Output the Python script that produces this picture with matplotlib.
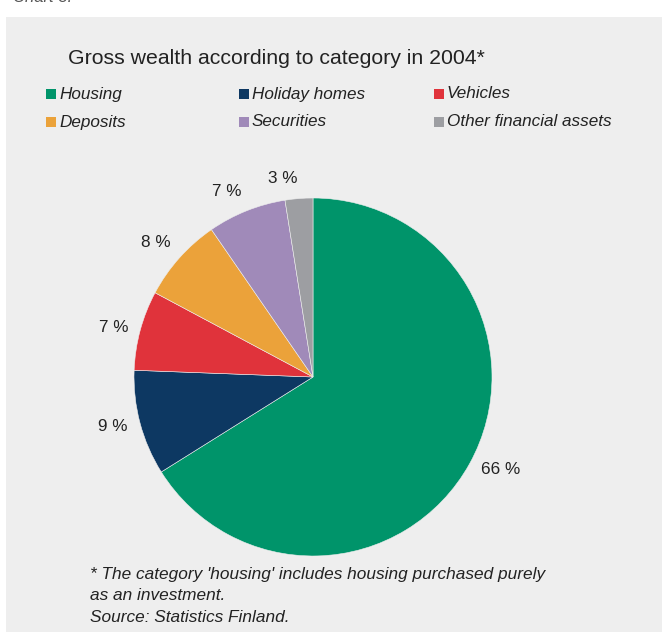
import matplotlib.pyplot as plt
from matplotlib.patches import Rectangle

plt.rcParams['font.family'] = ['Liberation Sans', 'DejaVu Sans']

categories = ['Housing', 'Holiday homes', 'Vehicles', 'Deposits', 'Securities', 'Other financial assets']
shares = [66.1, 9.5, 7.2, 7.6, 7.1, 2.5]
share_labels = [66, 9, 7, 8, 7, 3]
colors = ['#00946a', '#0d3862', '#e0333b', '#eba23a', '#a08ab9', '#9d9ea2']

W, H = 662, 632
fig = plt.figure(figsize=(W / 100, H / 100), dpi=100)
fig.patch.set_facecolor('white')

# grey panel
fig.patches.append(Rectangle((6 / W, 0), 1, (H - 17) / H, transform=fig.transFigure,
                             facecolor='#eeeeee', edgecolor='none', zorder=-5))

# cut off heading at the very top
fig.text(13 / W, 1 - 2 / H, 'Chart 3.', fontsize=12, style='italic', color='#555555', va='baseline')

fig.text(68 / W, 1 - 58 / H, 'Gross wealth according to category in 2004*', fontsize=15.3,
         color='#222222', va='center')

# legend, row by row
col_x = [46, 239, 434]
row_y = [94, 122]
for i, (name, c) in enumerate(zip(categories, colors)):
    x = col_x[i % 3]
    y = row_y[i // 3]
    fig.patches.append(Rectangle((x / W, 1 - (y + 5) / H), 10 / W, 10 / H,
                                 transform=fig.transFigure, facecolor=c, edgecolor='none'))
    fig.text((x + 13) / W, 1 - y / H, name, fontsize=12.3, style='italic', color='#222222', va='center')

# pie
cx, cy, r = 313, 377, 179
ax = fig.add_axes([(cx - r) / W, (H - cy - r) / H, 2 * r / W, 2 * r / H])
wedges, texts = ax.pie(shares, colors=colors, startangle=90, counterclock=False,
                       labels=[f'{s} %' for s in share_labels], labeldistance=1.07,
                       wedgeprops=dict(linewidth=0.4, edgecolor='#eeeeee'),
                       textprops=dict(fontsize=12.3, color='#222222'))
# the labels near the top sit a bit higher in the original
for t in texts:
    x, y = t.get_position()
    if y > 0.5:
        t.set_position((x, y + 0.04))
ax.set_xlim(-1, 1)
ax.set_ylim(-1, 1)
ax.set_aspect('auto')
ax.axis('off')

notes = ["* The category 'housing' includes housing purchased purely",
         "as an investment.",
         "Source: Statistics Finland."]
for k, line in enumerate(notes):
    fig.text(90 / W, 1 - (574 + 22 * k) / H, line, fontsize=12.4, style='italic',
             color='#222222', va='center')

fig.savefig('out.png', dpi=100)
